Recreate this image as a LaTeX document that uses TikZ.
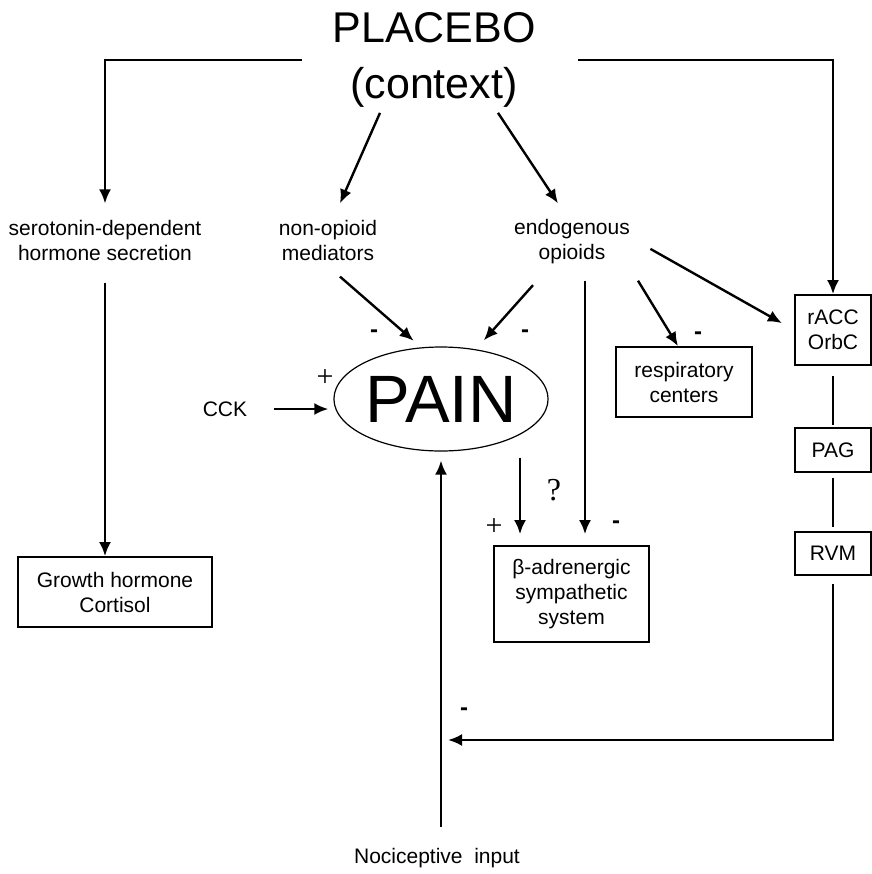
\documentclass[tikz,border=0pt]{standalone}
\usepackage{fontspec}
\setmainfont{Liberation Sans}
\newfontfamily\symfont{Liberation Serif}
\usetikzlibrary{arrows.meta,positioning,calc,shapes.geometric}

\begin{document}
\begin{tikzpicture}[
  x=0.5pt, y=-0.5pt,
  >={Latex[length=7pt,width=6pt]},
  every node/.style={font=\fontsize{10.5}{12.5}\selectfont},
  txt/.style={align=center, inner xsep=4pt, inner ysep=8pt},
  box/.style={draw, line width=0.9pt, align=center, inner sep=2pt},
  painshape/.style={ellipse, draw, line width=0.6pt, minimum width=98pt,
                    minimum height=52pt, inner sep=0pt,
                    font=\fontsize{33.5}{36}\selectfont},
  link/.style={->, line width=1.2pt},
  plain/.style={-, line width=1.2pt},
  sign/.style={font=\fontsize{12}{13}\selectfont\bfseries, inner sep=0pt},
  pm/.style={font=\fontsize{15}{16}\symfont, inner sep=0pt},
]
  \useasboundingbox (0,0) rectangle (872,874);

  % Source
  \node[font=\fontsize{21.5}{28}\selectfont, align=center,
        inner xsep=15pt, inner ysep=2.5pt] (placebo) at (434,60)
    {PLACEBO\\(context)};

  % Mediators
  \node[txt] (sero)  at (105,240) {serotonin-dependent\\hormone secretion};
  \node[txt] (nonop) at (328,240) {non-opioid\\mediators};
  \node[txt] (endo)  at (572,242) {endogenous\\opioids};

  % Pain and its inputs
  \node[painshape] (pain) at (441,399) {PAIN};
  \node[txt, inner sep=4pt] (cck) at (225,409) {CCK};
  \node[txt, inner sep=4pt] (noci) at (437,858) {Nociceptive\ \ input};
  \coordinate (fb) at (441,740);

  % Targets
  \node[box, minimum width=97pt, minimum height=35pt] (growth) at (115,592)
    {Growth hormone\\Cortisol};
  \node[box, minimum width=68pt, minimum height=35pt] (resp) at (684,382)
    {respiratory\\centers};
  \node[box, minimum width=77.5pt, minimum height=48pt] (beta) at (571.5,594)
    {β-adrenergic\\sympathetic\\system};

  % Descending chain
  \node[box, minimum width=38pt, minimum height=35pt] (racc) at (833,330)
    {rACC\\OrbC};
  \node[box, minimum width=38pt, minimum height=22pt] (pag) at (833,450) {PAG};
  \node[box, minimum width=38pt, minimum height=21.5pt] (rvm) at (833,553.5) {RVM};

  % Signs
  \node[sign] (s1) at (374,334) {-};
  \node[sign] (s2) at (525,334) {-};
  \node[sign] (s3) at (698,336) {-};
  \node[sign] (s4) at (616,525) {-};
  \node[sign] (s5) at (464,712) {-};
  \node[pm] (p1) at (325,378) {+};
  \node[pm] (p2) at (494,527) {+};
  \node[pm, font=\fontsize{16}{17}\symfont] (q) at (554,490) {?};

  % Connectors
  \draw[link] (placebo.west) -| (sero.north);
  \draw[link] ([xshift=6pt]placebo.east) -| (racc.north);
  \draw[link] ([xshift=-27pt]placebo.south) -- ([xshift=6pt]nonop.north);
  \draw[link] ([xshift=32pt]placebo.south) -- ([xshift=-7pt]endo.north);

  \draw[link, shorten >=5pt] ([xshift=6pt]nonop.south) -- (pain.111);
  \draw[link, shorten <=3pt, shorten >=6pt] ([xshift=-17.5pt]endo.south) -- (pain.55);
  \draw[link, shorten >=5.5pt] ([xshift=6.5pt]endo.south) -- ([xshift=6.75pt]beta.north);
  \draw[link] ([xshift=33pt]endo.south) -- ([xshift=-3pt]resp.north);
  \draw[link, shorten <=7pt, shorten >=7pt] (endo.east) -- (racc.west);

  \draw[link, shorten <=9pt, shorten >=2.5pt] (cck.east) -- (cck.east -| pain.west);
  \draw[link, shorten <=3pt, shorten >=5.5pt] ([xshift=39.5pt]pain.south) -- ([xshift=-25.75pt]beta.north);
  \draw[link, shorten <=6.5pt, shorten >=4.5pt] (noci.north -| pain.south) -- (pain.south);

  \draw[link, shorten <=3pt] (sero.south) -- (sero.south |- growth.north);

  \draw[plain, shorten <=5pt, shorten >=1pt] (racc.south) -- (pag.north);
  \draw[plain, shorten <=2.5pt, shorten >=2pt] (pag.south) -- (rvm.north);
  \draw[link, shorten <=4pt, shorten >=3.5pt] (rvm.south) |- (fb);
\end{tikzpicture}
\end{document}
